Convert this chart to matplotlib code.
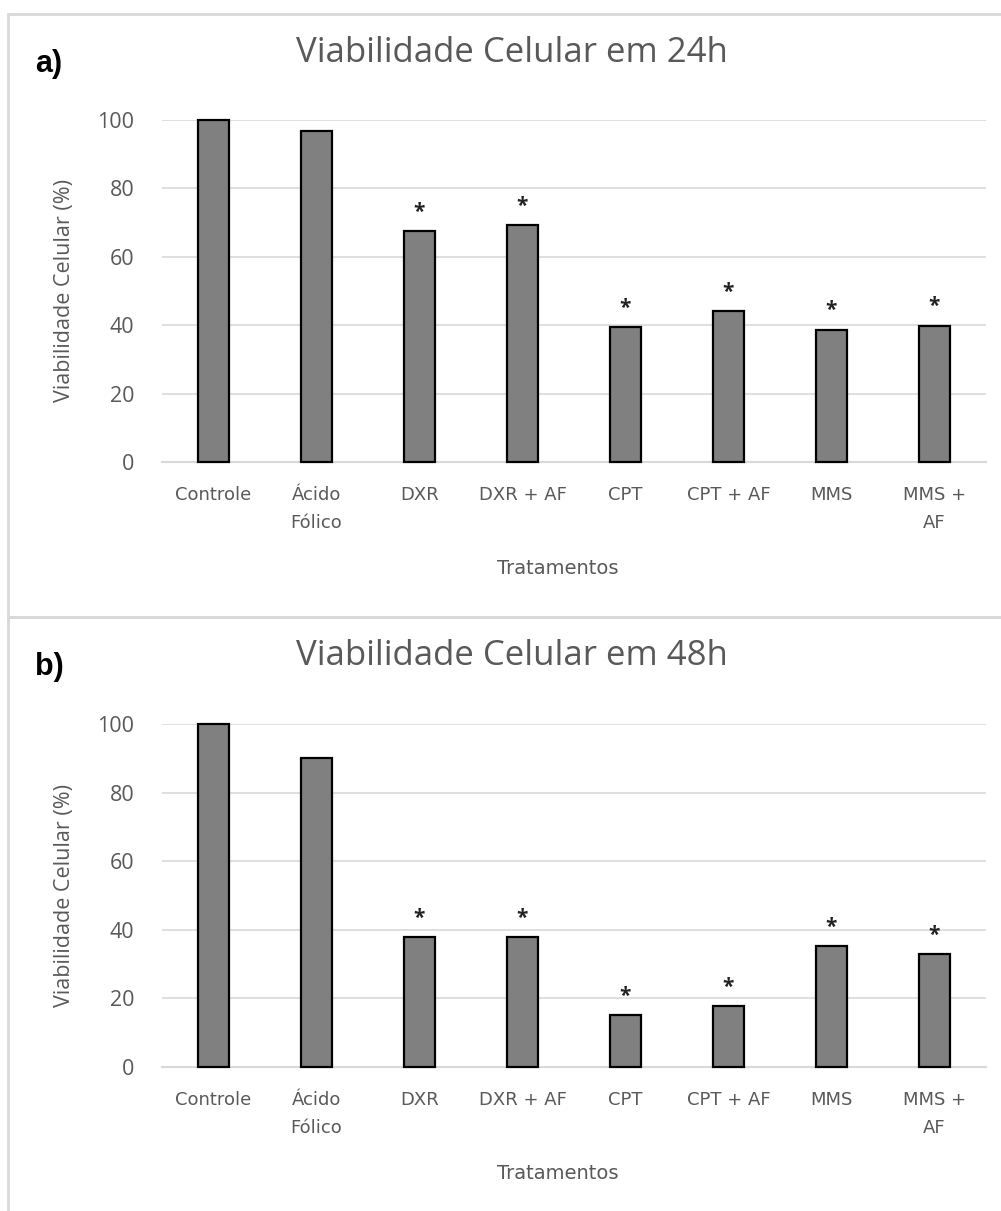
import matplotlib.pyplot as plt
from matplotlib.patches import Rectangle

# Tratamentos e viabilidade celular (%)
tratamentos = ['Controle', 'Ácido\nFólico', 'DXR', 'DXR + AF', 'CPT',
               'CPT + AF', 'MMS', 'MMS +\nAF']
viab_24h = [100, 96.8, 67.4, 69.3, 39.4, 44.2, 38.7, 39.9]
viab_48h = [100, 90.2, 37.8, 37.8, 15.2, 17.7, 35.3, 32.8]
# diferença significativa em relação ao controle
signif = [False, False, True, True, True, True, True, True]
yticks = [0, 20, 40, 60, 80, 100]

cinza_txt = '#595959'
cinza_linha = '#d9d9d9'
fonte = ['Open Sans', 'DejaVu Sans']

W, H = 1001, 1211
fig = plt.figure(figsize=(W / 100, H / 100), dpi=100)


def fy(px):
    return 1 - px / H


def painel(ax, valores, titulo, letra, topo_px, base_px):
    x = range(len(tratamentos))
    ax.bar(x, valores, width=0.3, color='#808080', edgecolor='black',
           linewidth=1.6, zorder=3, clip_on=False)
    for i, v in enumerate(valores):
        if signif[i]:
            ax.text(i, v + 5.5, '*', ha='center', va='center', fontsize=15,
                    fontweight='bold', color='#222222', family=fonte)

    ax.set_xlim(-0.5, len(tratamentos) - 0.5)
    ax.set_ylim(0, 100)
    ax.set_yticks(yticks)
    ax.set_yticklabels([str(t) for t in yticks], fontsize=15.5,
                       color=cinza_txt, family=fonte)
    ax.set_xticks(list(x))
    ax.set_xticklabels(tratamentos, fontsize=13, color=cinza_txt,
                       linespacing=1.75)
    ax.tick_params(axis='y', length=0, pad=20)
    ax.tick_params(axis='x', length=0, pad=17)
    ax.grid(axis='y', color=cinza_linha, linewidth=1.2, zorder=0)
    for lado in ['top', 'right', 'left']:
        ax.spines[lado].set_visible(False)
    ax.spines['bottom'].set_color(cinza_linha)
    ax.spines['bottom'].set_linewidth(1.5)

    ax.text(-0.118, 0.5, 'Viabilidade Celular (%)', transform=ax.transAxes,
            rotation=90, ha='center', va='center', fontsize=15.5,
            color=cinza_txt, family=fonte)
    ax.text(0.48, -0.31, 'Tratamentos', transform=ax.transAxes, ha='center',
            va='center', fontsize=14, color=cinza_txt)

    # título e letra do painel
    fig.text(512 / W, fy(topo_px + 48), titulo, ha='center', va='baseline',
             fontsize=25, color=cinza_txt, family=fonte)
    fig.text(35 / W, fy(topo_px + 50), letra, ha='left', va='center',
             fontsize=22, fontweight='bold', color='black',
             family=['Liberation Sans', 'DejaVu Sans'])

    # moldura do painel
    fig.add_artist(Rectangle((8 / W, fy(base_px)), 1.0, (base_px - topo_px) / H,
                             transform=fig.transFigure, fill=False,
                             edgecolor=cinza_linha, linewidth=2))


ax1 = fig.add_axes([162 / W, fy(462), 824 / W, 342 / H])
painel(ax1, viab_24h, 'Viabilidade Celular em 24h', 'a)', 14, 617)

ax2 = fig.add_axes([162 / W, fy(1067), 824 / W, 343 / H])
painel(ax2, viab_48h, 'Viabilidade Celular em 48h', 'b)', 617, 1230)

fig.savefig('out.png', dpi=100)
